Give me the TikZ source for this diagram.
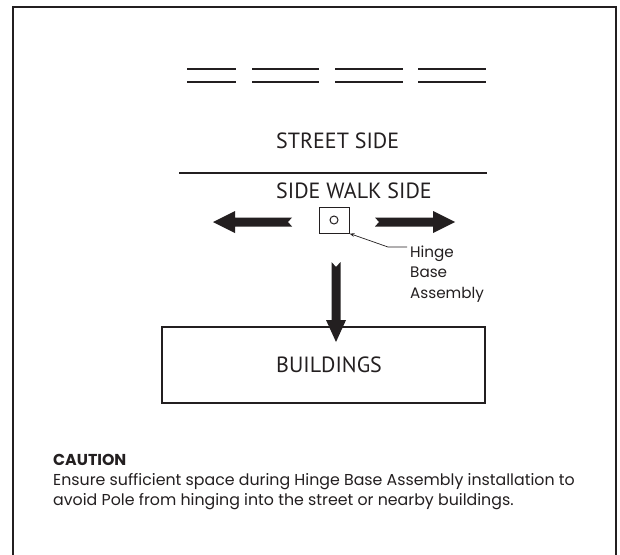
\documentclass[tikz,border=0pt]{standalone}
\usepackage{fontspec}
\newfontfamily\labelfont{PT Sans}
\newfontfamily\notefont{Poppins}
\usetikzlibrary{arrows.meta}
\definecolor{ink}{HTML}{231F20}
\tikzset{
  lbl/.style={anchor=base west, inner sep=0pt, text=ink, font=\labelfont\fontsize{22}{26}\selectfont},
  note/.style={anchor=base west, inner sep=0pt, text=ink, font=\notefont\fontsize{15.8}{20.5}\selectfont},
  tag/.style={anchor=base west, inner sep=0pt, text=ink, font=\notefont\fontsize{15.2}{20.5}\selectfont},
  thin/.style={draw=ink, line width=1.3pt},
  bigarrow/.style={fill=ink, draw=none}
}
\begin{document}
\begin{tikzpicture}[x=1pt,y=-1pt]
\useasboundingbox (0,0) rectangle (620,554);
\fill[white] (0,0) rectangle (620,554);
% frame
\draw[draw=ink, line width=2.5pt] (13,556) -- (13,7) -- (616,7) -- (616,556);
% road double lines
\foreach \a/\b in {187/236, 252/319, 335/403, 418/486}{
  \draw[thin] (\a,69) -- (\b,69);
  \draw[thin] (\a,82) -- (\b,82);
}
\node[lbl] (street) at (276,148) {STREET SIDE};
\coordinate (curbL) at (179,173);
\coordinate (curbR) at (487,173);
\draw[draw=ink, line width=1.2pt] (curbL) -- (curbR);
\node[lbl] (walk) at (276,198) {SIDE WALK SIDE};
% hinge base
\node[draw=ink, line width=1pt, minimum width=30pt, minimum height=26pt, inner sep=0pt] (base) at (334,220) {};
\draw[draw=ink, line width=1pt] (base.center) circle (4);
% left arrow
\fill[bigarrow] (213,222) -- (235,211) -- (235,217.5) -- (292,217.5) -- (288,222) -- (292,226.5) -- (235,226.5) -- (235,233) -- cycle;
% right arrow
\fill[bigarrow] (455,222) -- (433,211) -- (433,217.5) -- (375,217.5) -- (379,222) -- (375,226.5) -- (433,226.5) -- (433,233) -- cycle;
% down arrow
\fill[bigarrow] (336,342) -- (326,320) -- (331.5,320) -- (331.5,262) -- (336,267) -- (340.5,262) -- (340.5,320) -- (346,320) -- cycle;
% leader
\coordinate (bend) at (388,247);
\coordinate (lend) at (407,247);
\draw[draw=ink, line width=0.7pt, -{Stealth[length=5pt,width=3.5pt]}] (lend) -- (bend) -- (base.south east);
\node[tag] (hinge) at (410,257) {Hinge};
\node[tag] (hbase) at (410,277.5) {Base};
\node[tag] (assy) at (410,298) {Assembly};
% buildings
\draw[draw=ink, line width=1.2pt] (162,327) rectangle (485,403);
\node[lbl] (bldg) at (276,372) {BUILDINGS};
% caution
\node[note, font=\notefont\bfseries\fontsize{15.8}{20.5}\selectfont] (caution) at (53,465) {CAUTION};
\node[note] (l1) at (53,485) {Ensure sufficient space during Hinge Base Assembly installation to};
\node[note] (l2) at (53,505) {avoid Pole from hinging into the street or nearby buildings.};
\end{tikzpicture}
\end{document}
